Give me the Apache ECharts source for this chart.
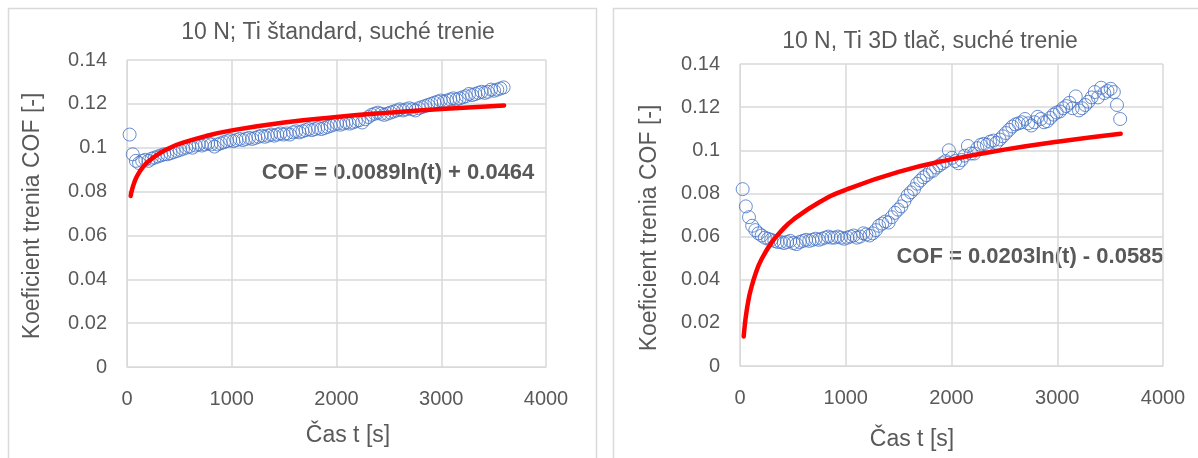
<!DOCTYPE html>
<html lang="sk">
<head>
    <meta charset="UTF-8">
    <title>COF</title>
    <script src="https://cdn.jsdelivr.net/npm/echarts@6/dist/echarts.min.js"></script>
    <style>
        html, body { margin: 0; padding: 0; background: #fff; }
    </style>
</head>
<body>
    <div id="main" style="width:1198px;height:458px;"></div>

    <script>
        // meranie: prvy bod v case T0, potom kazdych DT sekund
        const T0 = 25;
        const DT = 30;

        // 10 N, Ti standard
        const cofStandard = [
            0.106, 0.097, 0.094, 0.093, 0.094, 0.0945, 0.094, 0.095, 0.0955, 0.096,
            0.0965, 0.097, 0.097, 0.0975, 0.098, 0.0985, 0.099, 0.0995, 0.100, 0.1005,
            0.100, 0.101, 0.1015, 0.101, 0.1015, 0.102, 0.1015, 0.1005, 0.1015, 0.102,
            0.1025, 0.103, 0.1035, 0.103, 0.1035, 0.104, 0.1035, 0.104, 0.1045, 0.104,
            0.1045, 0.105, 0.1055, 0.105, 0.1055, 0.106, 0.1055, 0.106, 0.1065, 0.106,
            0.1065, 0.106, 0.107, 0.1075, 0.107, 0.1075, 0.108, 0.1085, 0.108, 0.1085,
            0.109, 0.1085, 0.109, 0.1095, 0.110, 0.1105, 0.111, 0.1105, 0.111, 0.1115,
            0.111, 0.1115, 0.112, 0.1125, 0.1115, 0.113, 0.114, 0.115, 0.1155, 0.116,
            0.1155, 0.115, 0.1155, 0.116, 0.1165, 0.117, 0.1175, 0.117, 0.1175, 0.118,
            0.1175, 0.117, 0.118, 0.1185, 0.119, 0.1195, 0.120, 0.1205, 0.121, 0.1215,
            0.121, 0.1215, 0.122, 0.1225, 0.122, 0.1225, 0.123, 0.1235, 0.1245, 0.124,
            0.1245, 0.125, 0.1255, 0.125, 0.1255, 0.1265, 0.126, 0.1265, 0.127, 0.1275
        ];

        // 10 N, Ti 3D tlac
        const cof3D = [
            0.082, 0.074, 0.069, 0.065, 0.063, 0.0615, 0.0605, 0.0595, 0.059, 0.0585,
            0.058, 0.0575, 0.0575, 0.057, 0.0575, 0.058, 0.057, 0.0565, 0.0575, 0.058,
            0.0585, 0.058, 0.0585, 0.059, 0.0585, 0.059, 0.0595, 0.060, 0.0595, 0.0595,
            0.060, 0.0595, 0.059, 0.0595, 0.060, 0.0605, 0.0595, 0.060, 0.0615, 0.061,
            0.0605, 0.0615, 0.063, 0.065, 0.066, 0.067, 0.0665, 0.069, 0.071, 0.0725,
            0.074, 0.0765, 0.079, 0.0805, 0.082, 0.0845, 0.086, 0.0875, 0.0885, 0.090,
            0.0905, 0.092, 0.093, 0.094, 0.095, 0.100, 0.0965, 0.095, 0.094, 0.0955,
            0.0975, 0.102, 0.0985, 0.0985, 0.101, 0.1025, 0.103, 0.1025, 0.104, 0.1045,
            0.1035, 0.105, 0.1065, 0.108, 0.1095, 0.111, 0.112, 0.1125, 0.113, 0.1145,
            0.1125, 0.1115, 0.113, 0.1155, 0.1145, 0.113, 0.1135, 0.115, 0.1165, 0.1175,
            0.118, 0.1195, 0.1205, 0.122, 0.1195, 0.125, 0.1185, 0.1195, 0.121, 0.1225,
            0.1245, 0.127, 0.1245, 0.129, 0.1265, 0.1275, 0.1285, 0.127, 0.121, 0.1145
        ];

        // logaritmicke trendy odcitane z grafu (podla rovnic v grafe)
        const trendT = [35, 45, 60, 80, 100, 150, 200, 300, 400, 500, 750, 1000, 1500, 2000, 2500, 3000, 3600];
        const trendStandard = [0.0780, 0.0803, 0.0828, 0.0854, 0.0874, 0.0910, 0.0936, 0.0971, 0.0997, 0.1017, 0.1053, 0.1079, 0.1115, 0.1140, 0.1160, 0.1177, 0.1193];
        const trend3D = [0.0137, 0.0188, 0.0246, 0.0305, 0.0350, 0.0432, 0.0491, 0.0573, 0.0631, 0.0677, 0.0759, 0.0817, 0.0900, 0.0958, 0.1003, 0.1040, 0.1077];

        const titles = ['10 N; Ti štandard, suché trenie', '10 N, Ti 3D tlač, suché trenie'];
        const equations = ['COF = 0.0089ln(t) + 0.0464', 'COF = 0.0203ln(t) - 0.0585'];
        const xName = 'Čas t [s]';
        const yName = 'Koeficient trenia COF [-]';

        const FONT = '"Liberation Sans", Arial, sans-serif';
        const GRAY = '#595959';
        const LINE = '#d9d9d9';

        function points(vals) {
            return vals.map((v, i) => [T0 + i * DT, v]);
        }
        function pairs(ts, vals) {
            return ts.map((t, i) => [t, vals[i]]);
        }

        function xAxis(idx) {
            return {
                gridIndex: idx, type: 'value', min: 0, max: 4000, interval: 1000,
                axisLine: { show: true, lineStyle: { color: LINE } },
                axisTick: { show: false },
                splitLine: { show: true, lineStyle: { color: LINE, width: 1.5 } },
                axisLabel: { color: GRAY, fontFamily: FONT, fontSize: 20, margin: 22, formatter: v => String(v) }
            };
        }
        function yAxis(idx) {
            return {
                gridIndex: idx, type: 'value', min: 0, max: 0.14, interval: 0.02,
                axisLine: { show: true, lineStyle: { color: LINE } },
                axisTick: { show: false },
                splitLine: { show: true, lineStyle: { color: LINE, width: 1.5 } },
                axisLabel: {
                    color: GRAY, fontFamily: FONT, fontSize: 20, margin: 20,
                    formatter: v => String(+v.toFixed(2))
                }
            };
        }
        function scatter(idx, vals) {
            return {
                type: 'scatter', xAxisIndex: idx, yAxisIndex: idx,
                data: points(vals), symbol: 'circle', symbolSize: 13,
                itemStyle: { color: 'rgba(255,255,255,0)', borderColor: '#4472c4', borderWidth: 1 },
                z: 2, silent: true
            };
        }
        function trend(idx, vals) {
            return {
                type: 'line', xAxisIndex: idx, yAxisIndex: idx,
                data: pairs(trendT, vals), smooth: true, showSymbol: false,
                lineStyle: { color: '#ff0000', width: 4.5, cap: 'round' },
                z: 3, silent: true
            };
        }
        function txt(x, y, text, font, extra) {
            return Object.assign({
                type: 'text', x: x, y: y, silent: true,
                style: { text: text, fill: GRAY, font: font, align: 'center', verticalAlign: 'middle' }
            }, extra || {});
        }

        const option = {
            backgroundColor: '#fff',
            animation: false,
            grid: [
                { left: 127, right: 652, top: 60, bottom: 91 },
                { left: 740, right: 35, top: 64, bottom: 92 }
            ],
            xAxis: [xAxis(0), xAxis(1)],
            yAxis: [yAxis(0), yAxis(1)],
            series: [
                scatter(0, cofStandard), trend(0, trendStandard),
                scatter(1, cof3D), trend(1, trend3D)
            ],
            graphic: [
                { type: 'rect', shape: { x: 8.5, y: 8.5, width: 588, height: 460 }, style: { fill: 'none', stroke: LINE, lineWidth: 1.5 }, silent: true },
                { type: 'rect', shape: { x: 613.5, y: 8.5, width: 600, height: 460 }, style: { fill: 'none', stroke: LINE, lineWidth: 1.5 }, silent: true },
                txt(338, 33, titles[0], '23px ' + FONT),
                txt(930, 42, titles[1], '23px ' + FONT),
                txt(348, 436, xName, '23px ' + FONT),
                txt(912, 440, xName, '23px ' + FONT),
                txt(33, 216, yName, '23px ' + FONT, { rotation: Math.PI / 2 }),
                txt(650, 228, yName, '23px ' + FONT, { rotation: Math.PI / 2 }),
                txt(398, 173, equations[0], 'bold 22px ' + FONT),
                txt(1030, 257, equations[1], 'bold 22px ' + FONT)
            ]
        };

        var myChart = echarts.init(document.getElementById('main'));
        myChart.setOption(option);
    </script>
</body>
</html>
